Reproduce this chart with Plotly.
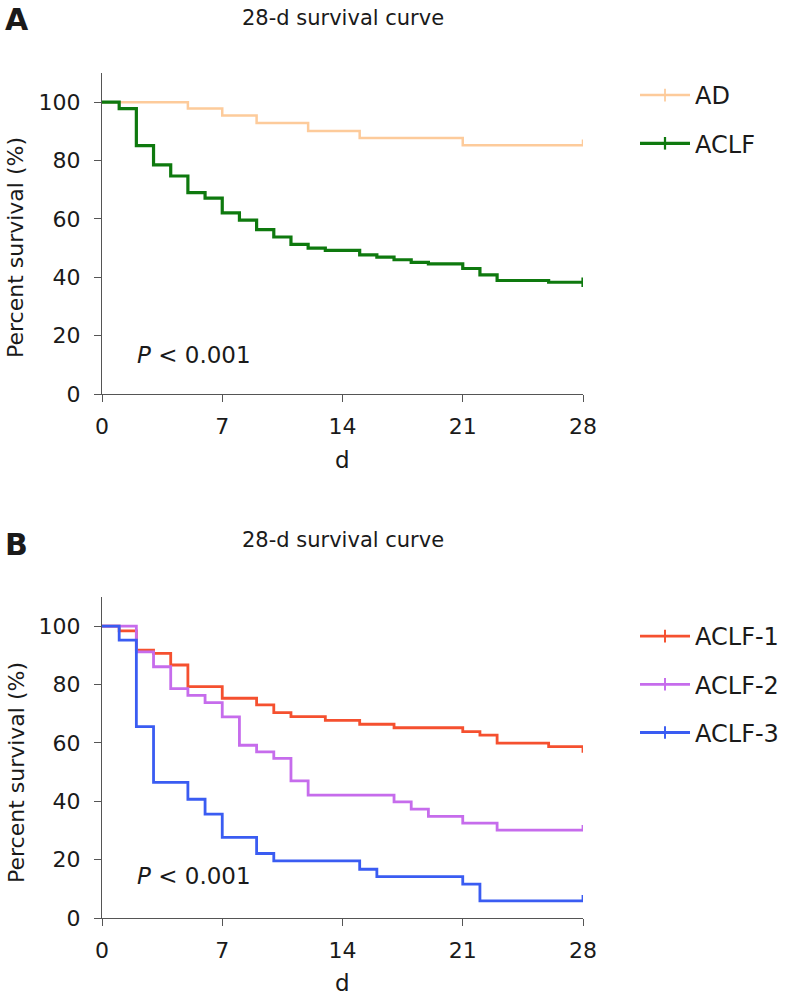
import plotly.graph_objects as go

# =====================================================================
# DATA (day -> percent survival)
# =====================================================================
days_ad = [0, 5, 7, 9, 12, 15, 21, 28]
surv_ad = [100, 97.8, 95.4, 92.9, 90.1, 87.7, 85.2, 85.2]

days_aclf = [0, 1, 2, 3, 4, 5, 6, 7, 8, 9, 10, 11, 12, 13, 15, 16, 17, 18, 19, 21, 22, 23, 26, 28]
surv_aclf = [100, 97.8, 85.1, 78.5, 74.7, 69.0, 67.1, 62.1, 59.6, 56.3, 53.8, 51.3,
             50.0, 49.2, 47.7, 46.9, 46.0, 45.1, 44.6, 43.0, 40.8, 38.9, 38.3, 38.3]

days_aclf1 = [0, 1, 2, 3, 4, 5, 7, 9, 10, 11, 13, 15, 17, 21, 22, 23, 26, 28]
surv_aclf1 = [100, 98.4, 91.8, 90.7, 86.7, 79.3, 75.3, 73.0, 70.4, 69.0, 67.7,
              66.4, 65.2, 63.9, 62.7, 59.9, 58.7, 56.6]

days_aclf2 = [0, 2, 3, 4, 5, 6, 7, 8, 9, 10, 11, 12, 17, 18, 19, 21, 23, 28]
surv_aclf2 = [100, 91.2, 86.1, 78.6, 76.3, 73.8, 68.9, 59.2, 56.9, 54.7, 47.0,
              42.1, 39.8, 37.3, 34.8, 32.5, 30.1, 30.1]

days_aclf3 = [0, 1, 2, 3, 5, 6, 7, 9, 10, 15, 16, 21, 22, 28]
surv_aclf3 = [100, 95.2, 65.6, 46.5, 40.7, 35.6, 27.6, 22.1, 19.6, 16.7, 14.2, 11.6, 5.9, 5.9]

x_ticks = [0, 7, 14, 21, 28]
y_ticks = [0, 20, 40, 60, 80, 100]
p_text = "<i>P</i> < 0.001"
panel_title = "28-d survival curve"

# =====================================================================
# STYLE
# =====================================================================
FONT = "DejaVu Sans"
TXT = "#1a1a1a"
AXC = "#555555"

# name, days, surv, colour, width, axis suffix, legend, censor tick (up, down)
series = [
    ("AD", days_ad, surv_ad, "#FDCB9B", 2.5, "", "legend", (2.0, 0)),
    ("ACLF", days_aclf, surv_aclf, "#0E790E", 3.2, "", "legend", (1.6, 1.6)),
    ("ACLF-1", days_aclf1, surv_aclf1, "#F5502F", 2.8, "2", "legend2", (0, 0)),
    ("ACLF-2", days_aclf2, surv_aclf2, "#C66CEC", 2.8, "2", "legend2", (1.8, 0)),
    ("ACLF-3", days_aclf3, surv_aclf3, "#3A5CF2", 2.8, "2", "legend2", (2.0, 0)),
]

fig = go.Figure()

for name, d, s, col, w, ax, leg, (up, dn) in series:
    xa, ya = "x" + ax, "y" + ax
    # step curve
    fig.add_trace(go.Scatter(
        x=d, y=s, mode="lines", line=dict(color=col, width=w, shape="hv"),
        xaxis=xa, yaxis=ya, showlegend=False, hoverinfo="skip",
    ))
    # censor tick at the end
    if up or dn:
        fig.add_trace(go.Scatter(
            x=[d[-1]], y=[s[-1]], mode="markers", marker=dict(size=1, color=col),
            error_y=dict(type="data", symmetric=False, array=[up], arrayminus=[dn],
                         color=col, thickness=w, width=0),
            xaxis=xa, yaxis=ya, showlegend=False, hoverinfo="skip",
        ))
    # legend entry
    fig.add_trace(go.Scatter(
        x=[None], y=[None], mode="lines+markers", name=name,
        line=dict(color=col, width=w),
        marker=dict(symbol="line-ns", size=9, line=dict(color=col, width=w * 0.7)),
        xaxis=xa, yaxis=ya, legend=leg, legendgroup=name,
    ))

W, H = 793, 997
x0, x1 = 102, 583          # pixel span of day 0..28
a_y0, a_y1 = 394, 73       # panel A: 0 and 110
b_y0, b_y1 = 918, 597      # panel B: 0 and 110


def px(v):
    return v / W


def py(v):
    return 1 - v / H


axis_common = dict(
    showline=True, linecolor=AXC, linewidth=1.2, ticks="outside", ticklen=7,
    tickcolor=AXC, tickwidth=1.2, showgrid=False, zeroline=False, automargin=False,
    tickfont=dict(family=FONT, size=22, color=TXT),
)
xax = dict(range=[0, 28], tickvals=x_ticks, ticklabelstandoff=5, **axis_common)
yax = dict(range=[0, 110], tickvals=y_ticks, ticklabelstandoff=9, **axis_common)

leg_common = dict(xanchor="left", yanchor="top", itemwidth=50, tracegroupgap=14,
                  font=dict(family=FONT, size=24, color=TXT), bgcolor="rgba(0,0,0,0)")

fig.update_layout(
    width=W, height=H, margin=dict(l=0, r=0, t=0, b=0),
    paper_bgcolor="white", plot_bgcolor="white",
    font=dict(family=FONT, color=TXT),
    xaxis=dict(domain=[px(x0), px(x1)], anchor="y", **xax),
    yaxis=dict(domain=[py(a_y0), py(a_y1)], anchor="x", **yax),
    xaxis2=dict(domain=[px(x0), px(x1)], anchor="y2", **xax),
    yaxis2=dict(domain=[py(b_y0), py(b_y1)], anchor="x2", **yax),
    legend=dict(x=px(635), y=py(73), **leg_common),
    legend2=dict(x=px(635), y=py(614), **leg_common),
    showlegend=True,
)

xc = px((x0 + x1) / 2)
annots = [
    dict(text="<b>A</b>", x=px(3), y=py(20), xanchor="left", size=30),
    dict(text="<b>B</b>", x=px(3), y=py(544), xanchor="left", size=30),
    dict(text=panel_title, x=xc, y=py(18), xanchor="center", size=21),
    dict(text=panel_title, x=xc, y=py(540), xanchor="center", size=21),
    dict(text="d", x=xc, y=py(460), xanchor="center", size=23),
    dict(text="d", x=xc, y=py(983), xanchor="center", size=23),
]
for a in annots:
    fig.add_annotation(text=a["text"], x=a["x"], y=a["y"], xref="paper", yref="paper",
                       xanchor=a["xanchor"], yanchor="middle", showarrow=False,
                       font=dict(family=FONT, size=a["size"], color=TXT))

for yc in (py((a_y0 + 102) / 2), py((b_y0 + 628) / 2)):
    fig.add_annotation(text="Percent survival (%)", x=px(16), y=yc, xref="paper", yref="paper",
                       textangle=-90, showarrow=False, xanchor="center", yanchor="middle",
                       font=dict(family=FONT, size=22, color=TXT))

fig.add_annotation(text=p_text, x=1.9, y=13.5, xref="x", yref="y", xanchor="left",
                   yanchor="middle", showarrow=False, font=dict(family=FONT, size=23, color=TXT))
fig.add_annotation(text=p_text, x=1.9, y=14.5, xref="x2", yref="y2", xanchor="left",
                   yanchor="middle", showarrow=False, font=dict(family=FONT, size=23, color=TXT))

# drop the page's default body margin so the figure fills the window
fig.write_html("out.html", config={"displayModeBar": False},
               post_script="document.body.style.margin = '0';")
